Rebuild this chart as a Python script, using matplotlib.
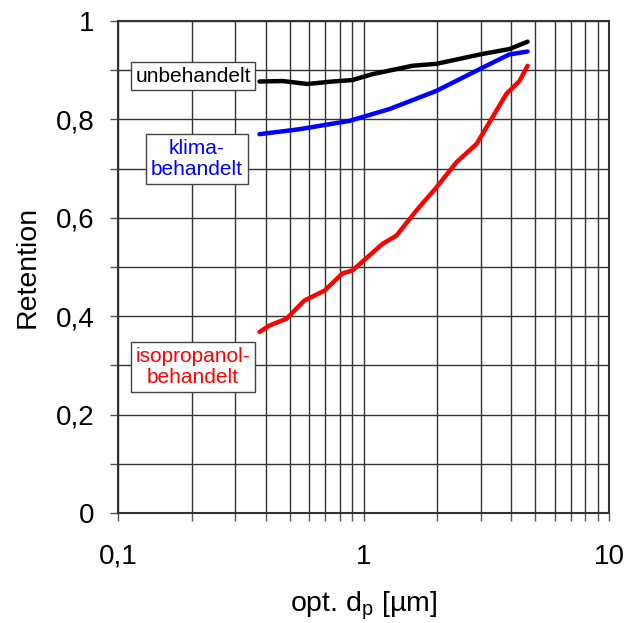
import matplotlib
matplotlib.use("Agg")
import matplotlib.pyplot as plt
from matplotlib.ticker import FixedLocator, NullFormatter, FixedFormatter

plt.rcParams['font.family'] = ['Liberation Sans', 'DejaVu Sans']

# Data
x_unb = [0.377, 0.468, 0.591, 0.748, 0.902, 1.088, 1.583, 1.983, 3.05, 3.93, 4.66]
y_unb = [0.877, 0.878, 0.872, 0.877, 0.880, 0.892, 0.909, 0.913, 0.933, 0.943, 0.958]

x_kli = [0.377, 0.548, 0.877, 1.276, 1.983, 3.05, 3.93, 4.66]
y_kli = [0.770, 0.780, 0.797, 0.821, 0.858, 0.905, 0.932, 0.938]

x_iso = [0.377, 0.414, 0.486, 0.575, 0.694, 0.821, 0.902, 1.195, 1.363, 1.643, 1.983,
         2.392, 2.886, 3.35, 3.82, 4.32, 4.66]
y_iso = [0.368, 0.381, 0.395, 0.432, 0.452, 0.487, 0.493, 0.547, 0.564, 0.615, 0.662,
         0.713, 0.750, 0.804, 0.852, 0.878, 0.909]

labels = ["unbehandelt", "klima-\nbehandelt", "isopropanol-\nbehandelt"]
colors = ["black", "#0000ff", "#ff0000"]

fig = plt.figure(figsize=(6.26, 6.23), dpi=100)
ax = fig.add_axes([118/626, 1 - 513/623, (609-118)/626, (513-21)/623])

ax.set_xscale('log')
ax.set_xlim(0.1, 10)
ax.set_ylim(0, 1)

for xs, ys, c in zip([x_unb, x_kli, x_iso], [y_unb, y_kli, y_iso], colors):
    ax.plot(xs, ys, color=c, lw=3.2, solid_capstyle='round', solid_joinstyle='round', zorder=3)

# grid
minor_x = [m * 10**e for e in (-1, 0) for m in range(1, 10)] + [10]
ax.xaxis.set_major_locator(FixedLocator([0.1, 1, 10]))
ax.xaxis.set_major_formatter(FixedFormatter(["0,1", "1", "10"]))
ax.xaxis.set_minor_locator(FixedLocator(minor_x))
ax.xaxis.set_minor_formatter(NullFormatter())
ax.yaxis.set_major_locator(FixedLocator([0, 0.2, 0.4, 0.6, 0.8, 1.0]))
ax.yaxis.set_major_formatter(FixedFormatter(["0", "0,2", "0,4", "0,6", "0,8", "1"]))
ax.yaxis.set_minor_locator(FixedLocator([0.1, 0.3, 0.5, 0.7, 0.9]))
ax.yaxis.set_minor_formatter(NullFormatter())
ax.grid(True, which='both', color='#333333', lw=1.0, zorder=1)

ax.tick_params(which='both', direction='out', length=6, width=1, color='#555555',
               top=False, right=False)
ax.tick_params(axis='x', which='major', labelsize=20, pad=16)
ax.tick_params(axis='y', which='major', labelsize=20, pad=11)
for s in ax.spines.values():
    s.set_linewidth(1.5)
    s.set_color('#333333')

ax.set_xlabel("opt. d$_\\mathregular{p}$ [µm]", fontsize=20.5, labelpad=14)
ax.set_ylabel("Retention", fontsize=20.5, labelpad=11)

box = dict(boxstyle='square,pad=0.22', fc='white', ec='#444444', lw=1)
pos = [(193, 76), (197, 159), (193, 367)]
for (px, py), t, c in zip(pos, labels, colors):
    fig.text(px/626, 1 - py/623, t, color=c, fontsize=15, ha='center', va='center',
             linespacing=1.15, bbox=box, zorder=5)

fig.savefig("out.png", dpi=100)
